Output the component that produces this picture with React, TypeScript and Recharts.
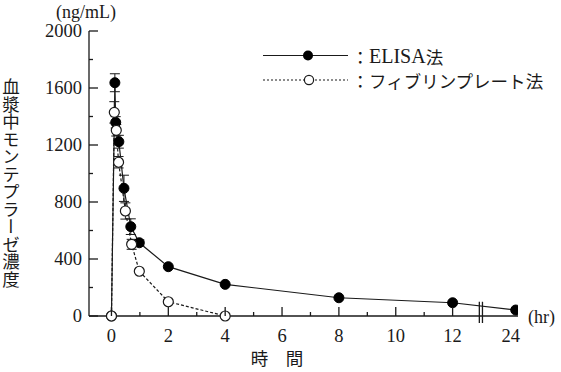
import React from 'react';
import { LineChart, Line, XAxis, YAxis, ErrorBar, ReferenceArea, Customized } from 'recharts';

// ---- data (hours, ng/mL) ----
const ELISA_HOURS = [0, 0.12, 0.15, 0.26, 0.44, 0.68, 0.98, 2, 4, 8, 12, 24];
const ELISA_VALUES = [0, 1637, 1359, 1223, 896, 627, 514, 346, 222, 128, 93, 42];
const ELISA_ERRORS = [0, 63, 40, 45, 92, 55, 20, 0, 0, 0, 0, 0];

const FIBRIN_HOURS = [0, 0.1, 0.17, 0.25, 0.49, 0.71, 0.98, 2, 4];
const FIBRIN_VALUES = [0, 1429, 1303, 1079, 737, 503, 314, 100, 0];
const FIBRIN_ERRORS = [0, 75, 40, 40, 57, 35, 0, 0, 0];

const SERIES_NAMES = ['ELISA', 'フィブリンプレート'];
const METHOD_SUFFIX = '法';

const X_MAJOR_HOURS = [0, 2, 4, 6, 8, 10, 12, 24];
const X_MINOR_HOURS = [1, 3, 5, 7, 9, 11];
const Y_MAJOR = [0, 400, 800, 1200, 1600, 2000];
const Y_MINOR = [200, 600, 1000, 1400, 1800];

const Y_UNIT = '(ng/mL)';
const X_UNIT = '(hr)';
const X_TITLE = '時　間';
const Y_TITLE = '血漿中モンテプラーゼ濃度';

// ---- broken axis: hours after 12 are compressed ----
const BREAK_FROM = 12;
const BREAK_SCALE = 0.185;
const toAxis = (h: number) => (h <= BREAK_FROM ? h : BREAK_FROM + (h - BREAK_FROM) * BREAK_SCALE);

const SERIF_STYLE = { fontFamily: "'Times New Roman', serif" };
const CJK_STYLE = { fontFamily: "'Noto Sans CJK JP', sans-serif" };
const INK = '#1a1a1a';

const elisaData = ELISA_HOURS.map((h, i) => ({ x: toAxis(h), y: ELISA_VALUES[i], e: ELISA_ERRORS[i] }));
const fibrinData = FIBRIN_HOURS.map((h, i) => ({ x: toAxis(h), y: FIBRIN_VALUES[i], e: FIBRIN_ERRORS[i] }));

const xLabelByPos = new Map<number, string>();
X_MAJOR_HOURS.forEach((h) => xLabelByPos.set(toAxis(h), String(h)));
const X_TICKS = [...X_MAJOR_HOURS, ...X_MINOR_HOURS].map(toAxis).sort((a, b) => a - b);
const Y_TICKS = [...Y_MAJOR, ...Y_MINOR].sort((a, b) => a - b);

const XTick = (props: any) => {
  const { x, y, payload } = props;
  const label = xLabelByPos.get(payload.value);
  const isBreakSide = payload.value > BREAK_FROM;
  const len = label !== undefined ? 9 : 4;
  return (
    <g>
      {!isBreakSide && <line x1={x} x2={x} y1={y} y2={y - len} stroke={INK} strokeWidth={1.3} />}
      {label !== undefined && (
        <text x={x} y={y + 26} dx={isBreakSide ? -5 : 0} textAnchor="middle" fontSize={18.5} style={SERIF_STYLE} fill={INK}>
          {label}
        </text>
      )}
    </g>
  );
};

const YTick = (props: any) => {
  const { x, y, payload } = props;
  const major = Y_MAJOR.includes(payload.value);
  return (
    <g>
      <line x1={x} x2={x + (major ? 9 : 4)} y1={y} y2={y} stroke={INK} strokeWidth={1.3} />
      {major && (
        <text x={x - 7} y={y} dy="0.35em" textAnchor="end" fontSize={18.5} style={SERIF_STYLE} fill={INK}>
          {payload.value}
        </text>
      )}
    </g>
  );
};

const BreakShape = (p: any) => {
  const { x, y, width, height } = p;
  return (
    <g>
      <rect x={x} y={y} width={width} height={height} fill="#fff" />
      <line x1={x} x2={x} y1={y} y2={y + height} stroke={INK} strokeWidth={1.3} />
      <line x1={x + width} x2={x + width} y1={y} y2={y + height} stroke={INK} strokeWidth={1.3} />
    </g>
  );
};

const Annotations = () => (
  <g>
    <text x={56} y={18} fontSize={18} style={SERIF_STYLE} fill={INK}>{Y_UNIT}</text>
    <text x={528} y={323} fontSize={18} style={SERIF_STYLE} fill={INK}>{X_UNIT}</text>
    <text x={277} y={365} fontSize={17.5} textAnchor="middle" style={CJK_STYLE} fill={INK}>{X_TITLE}</text>
    <text x={11} y={78} fontSize={17.5} fill={INK} style={{ ...CJK_STYLE, writingMode: 'vertical-rl' } as any}>
      {Y_TITLE}
    </text>
    {/* legend */}
    <line x1={263} x2={348} y1={55.5} y2={55.5} stroke={INK} strokeWidth={1.2} />
    <circle cx={308} cy={55.5} r={5} fill="#000" />
    <line x1={263} x2={348} y1={80} y2={80} stroke={INK} strokeWidth={1.2} strokeDasharray="2 2" />
    <circle cx={309} cy={80} r={4.6} fill="#fff" stroke={INK} strokeWidth={1.2} />
    <text x={351.5} y={55.5} dominantBaseline="central" fill={INK}>
      <tspan style={CJK_STYLE} fontSize={17.5}>：</tspan>
      <tspan style={SERIF_STYLE} fontSize={20}>{SERIES_NAMES[0]}</tspan>
      <tspan style={CJK_STYLE} fontSize={17.5}>{METHOD_SUFFIX}</tspan>
    </text>
    <text x={351.5} y={80} dominantBaseline="central" style={CJK_STYLE} fontSize={17.5} fill={INK}>
      ：{SERIES_NAMES[1]}{METHOD_SUFFIX}
    </text>
  </g>
);

export default function App() {
  return (
    <div style={{ position: 'absolute', left: 0, top: 0, background: '#fff' }}>
      <LineChart width={561} height={372} margin={{ top: 31, right: 43, bottom: 26, left: 0 }}>
        <XAxis
          dataKey="x"
          type="number"
          domain={[-0.79, 14.3]}
          allowDataOverflow
          ticks={X_TICKS}
          interval={0}
          tickSize={0}
          tickMargin={0}
          tickLine={false}
          tick={<XTick />}
          height={30}
          axisLine={{ stroke: INK, strokeWidth: 1.3 }}
        />
        <YAxis
          type="number"
          domain={[0, 2000]}
          ticks={Y_TICKS}
          interval={0}
          tickSize={0}
          tickMargin={0}
          tickLine={false}
          tick={<YTick />}
          width={89}
          axisLine={{ stroke: INK, strokeWidth: 1.3 }}
        />
        <Line
          data={elisaData}
          dataKey="y"
          name={SERIES_NAMES[0]}
          type="linear"
          stroke={INK}
          strokeWidth={1.2}
          dot={{ r: 5, fill: '#000', stroke: '#000', strokeWidth: 1 }}
          activeDot={false}
          isAnimationActive={false}
        >
          <ErrorBar dataKey="e" width={5} stroke={INK} strokeWidth={1} direction="y" isAnimationActive={false} />
        </Line>
        <Line
          data={fibrinData}
          dataKey="y"
          name={SERIES_NAMES[1]}
          type="linear"
          stroke={INK}
          strokeWidth={1.2}
          strokeDasharray="3 2"
          dot={{ r: 5, fill: '#fff', stroke: INK, strokeWidth: 1.2, strokeDasharray: '' }}
          activeDot={false}
          isAnimationActive={false}
        >
          <ErrorBar dataKey="e" width={5} stroke={INK} strokeWidth={1} direction="y" isAnimationActive={false} />
        </Line>
        <ReferenceArea x1={12.94} x2={13.05} y1={-49} y2={100} ifOverflow="visible" shape={<BreakShape />} />
        <Customized component={Annotations} />
      </LineChart>
    </div>
  );
}
